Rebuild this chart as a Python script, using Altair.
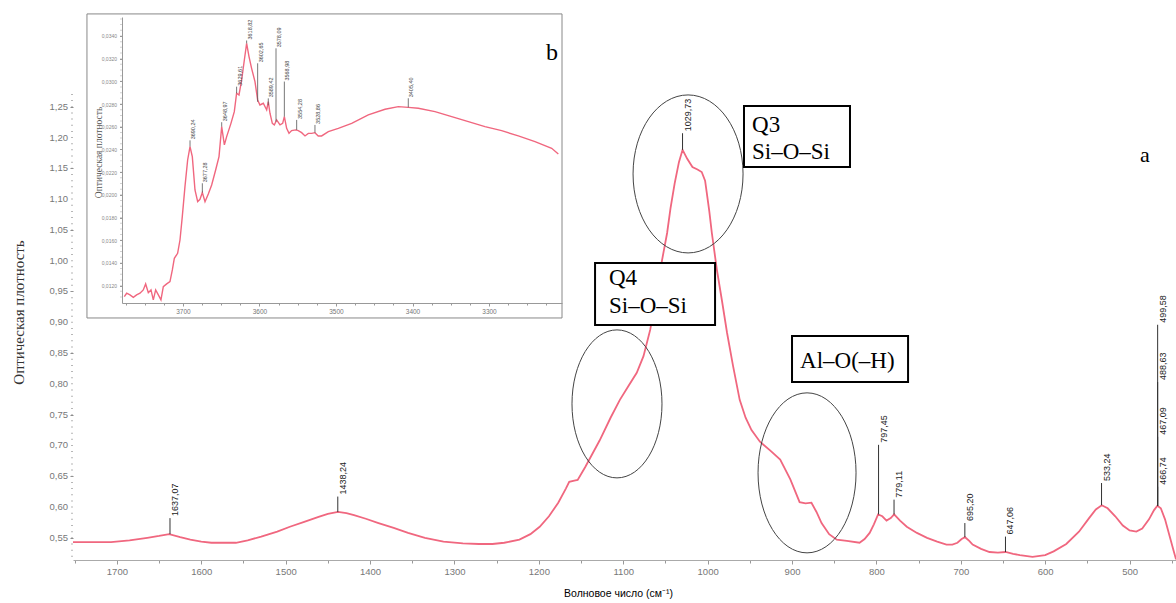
import altair as alt
import pandas as pd

# ---------------- main spectrum (a) ----------------
main_wn = [1752, 1730, 1707, 1685, 1664, 1650, 1638, 1625, 1613, 1600, 1588, 1559, 1545, 1529,
           1510, 1495, 1478, 1461, 1450, 1438, 1428, 1419, 1405, 1390, 1372, 1355, 1335, 1313,
           1290, 1271, 1255, 1241, 1223, 1210, 1199, 1188, 1177, 1168, 1164, 1158, 1154, 1145,
           1128, 1115, 1104, 1094, 1084, 1076, 1068, 1060, 1054, 1048, 1044, 1039, 1034, 1029.7,
           1024, 1018, 1012, 1007, 1003, 1001, 998, 995, 992, 989, 983, 977, 970, 962, 955, 948,
           938, 926, 914, 902, 891, 884, 877, 871, 865, 856, 847, 835, 820, 814, 808, 803, 798,
           793, 788, 783, 779, 772, 764, 752, 740, 728, 717, 710, 704, 699, 695, 690, 686, 676,
           666, 656, 647, 638, 630, 615, 600, 590, 575, 560, 548, 540, 533, 526, 517, 508, 500,
           492, 485, 477, 471, 467, 463, 458, 453, 448, 445]
main_od = [0.543, 0.543, 0.543, 0.546, 0.550, 0.553, 0.556, 0.551, 0.547, 0.544, 0.542, 0.542, 0.546, 0.552,
           0.560, 0.568, 0.576, 0.584, 0.589, 0.592, 0.590, 0.587, 0.581, 0.574, 0.566, 0.558, 0.550, 0.544,
           0.541, 0.540, 0.540, 0.542, 0.547, 0.556, 0.568, 0.585, 0.607, 0.630, 0.641, 0.643, 0.644, 0.665,
           0.708, 0.745, 0.774, 0.796, 0.818, 0.845, 0.888, 0.950, 1.001, 1.045, 1.085, 1.126, 1.160, 1.180,
           1.165, 1.152, 1.148, 1.144, 1.130, 1.110, 1.080, 1.045, 1.015, 0.985, 0.935, 0.883, 0.830, 0.774, 0.745, 0.725,
           0.706, 0.692, 0.677, 0.645, 0.608, 0.606, 0.607, 0.592, 0.574, 0.556, 0.547, 0.545, 0.542, 0.548, 0.558, 0.572, 0.588,
           0.585, 0.578, 0.582, 0.588, 0.578, 0.568, 0.558, 0.550, 0.544, 0.539, 0.539, 0.542, 0.548, 0.551, 0.545, 0.539, 0.532,
           0.527, 0.526, 0.527, 0.524, 0.522, 0.519, 0.522, 0.528, 0.540, 0.560, 0.582, 0.596, 0.603, 0.598, 0.585, 0.570, 0.562,
           0.560, 0.565, 0.580, 0.595, 0.602, 0.598, 0.580, 0.555, 0.530, 0.515]

peak_labels = ["1637,07", "1438,24", "1029,73", "797,45", "779,11", "695,20", "647,06",
               "533,24", "499,58", "488,63", "467,09", "466,74"]
peak_pos = [1637.07, 1438.24, 1029.73, 797.45, 779.11, 695.20, 647.06,
            533.24, 466.74, 466.74, 466.74, 466.74]
peak_base = [0.556, 0.592, 1.180, 0.588, 0.588, 0.551, 0.527, 0.603, 0.602, 0.602, 0.602, 0.602]
peak_top = [0.582, 0.617, 1.207, 0.701, 0.612, 0.574, 0.552, 0.639, 0.896, 0.803, 0.714, 0.633]

box_lines = [["Q3", "Si\u2013O\u2013Si"], ["Q4", "Si\u2013O\u2013Si"], ["Al\u2013O(\u2013H)"]]

x_ticks = list(range(1750, 444, -25))
y_major = [0.55, 0.60, 0.65, 0.70, 0.75, 0.80, 0.85, 0.90, 0.95, 1.00, 1.05, 1.10, 1.15, 1.20, 1.25]
y_major_text = ["0,55", "0,60", "0,65", "0,70", "0,75", "0,80", "0,85", "0,90", "0,95", "1,00",
                "1,05", "1,10", "1,15", "1,20", "1,25"]
y_minor = [round(0.52 + 0.01 * i, 2) for i in range(76)]

# ---------------- inset (b) ----------------
inset_wn = [3776.7, 3773.6, 3769.3, 3764.9, 3760.6, 3756.2, 3751.9, 3748.8, 3745.3, 3741.8, 3738.8,
            3735.7, 3732.2, 3728.8, 3725.7, 3721.3, 3717.0, 3713.9, 3711.3, 3707.0, 3703.9, 3700.9,
            3697.4, 3693.9, 3690.8, 3687.8, 3684.3, 3680.8, 3677.8, 3674.7, 3671.2, 3666.9, 3662.5,
            3657.3, 3652.9, 3649.4, 3645.9, 3642.9, 3637.3, 3632.9, 3629.9, 3626.8, 3623.3, 3619.8,
            3616.8, 3613.7, 3610.3, 3605.9, 3602.4, 3599.4, 3595.0, 3590.6, 3588.5, 3586.3, 3583.2,
            3580.6, 3577.6, 3573.2, 3569.7, 3567.5, 3564.5, 3561.4, 3558.0, 3552.7, 3549.3, 3544.9,
            3540.5, 3536.2, 3531.8, 3527.5, 3523.2, 3518.8, 3510.0, 3497.0, 3479.5, 3457.8, 3435.9,
            3418.5, 3405.5, 3392.4, 3370.6, 3348.8, 3327.0, 3305.3, 3283.5, 3261.7, 3239.9, 3218.1,
            3209.4]
inset_od = [110.3, 113.3, 111.8, 109.7, 111.8, 113.3, 116.2, 121.5, 113.8, 116.2, 107.4,
            116.2, 111.8, 107.4, 119.1, 121.5, 123.5, 133.8, 144.1, 148.5, 160.2, 180.8,
            207.2, 230.7, 242.5, 233.7, 204.3, 194.0, 196.1, 202.0, 194.0, 200.8, 208.7,
            221.9, 233.7, 260.1, 244.0, 251.3, 263.0, 273.3, 289.5, 288.0, 301.2, 318.8,
            333.5, 321.8, 311.5, 299.8, 283.6, 279.2, 280.7, 274.8, 282.1, 271.9, 263.0,
            261.6, 266.0, 261.6, 263.0, 268.9, 258.6, 254.2, 256.6, 257.2, 256.6, 254.8,
            251.9, 254.2, 254.2, 254.8, 251.9, 251.9, 255.7, 258.6, 263.0, 270.4, 275.4,
            277.7, 277.1, 276.3, 273.3, 268.9, 264.5, 260.1, 256.6, 251.9, 246.9, 241.0,
            236.0]

inset_peak_labels = ["3690,24", "3677,28", "3648,97", "3629,61", "3618,82", "3602,65",
                     "3589,42", "3578,09", "3568,98", "3554,28", "3528,86", "3405,40"]
inset_peak_pos = [3690.8, 3674.7, 3649.4, 3629.9, 3616.8, 3602.4, 3588.5, 3578.4, 3567.5,
                  3551.4, 3527.5, 3405.5]
inset_peak_base = [242.5, 202.0, 260.1, 289.5, 333.5, 282.0, 279.0, 264.5, 268.9, 257.2, 254.8, 277.1]
inset_peak_top = [248.0, 210.2, 264.0, 295.3, 336.0, 315.9, 285.0, 329.1, 299.8, 266.0, 261.6, 285.1]

inset_x_ticks = list(range(3775, 3204, -25))
inset_y_major = [120, 140, 160, 180, 200, 220, 240, 260, 280, 300, 320, 340]
inset_y_minor = list(range(110, 356, 5))

PINK = "#f0677f"

# ---------------- main layers ----------------
xs = alt.Scale(domain=[1752, 445], nice=False, zero=False)
ys = alt.Scale(domain=[0.514, 1.4006], nice=False, zero=False)

main_df = pd.DataFrame({"wn": main_wn, "od": main_od})
peaks_df = pd.DataFrame({"wn": peak_pos, "od": peak_base, "top": peak_top, "label": peak_labels})
yminor_df = pd.DataFrame({"od": y_minor})
ylab_df = pd.DataFrame({"od": y_major, "txt": y_major_text})

x_axis = alt.Axis(
    values=x_ticks,
    labelExpr="datum.value % 100 == 0 ? '' + datum.value : ''",
    tickSize={"condition": {"test": "datum.value % 100 == 0", "value": 4}, "value": 3},
    tickColor="#999", domainColor="#aaa", labelColor="#777", labelFont="Liberation Sans",
    labelFontSize=9.5, labelPadding=2, labelOverlap=False, grid=False,
    title="Волновое число (см⁻¹)", titleFont="Liberation Sans", titleFontSize=10.5,
    titleFontWeight="normal", titleColor="black", titleX=545, titleY=33, titleBaseline="middle",
)
y_axis = alt.Axis(
    values=y_major, labels=False,
    tickSize=3, tickColor="#888", domain=False, grid=False,
    title="Оптическая плотность", titleFont="Liberation Serif", titleFontSize=15,
    titleFontWeight="normal", titleColor="#333", titleAngle=270, titleX=-55, titleY=298,
    titleBaseline="middle",
)

curve = alt.Chart(main_df).mark_line(color=PINK, strokeWidth=1.8).encode(
    x=alt.X("wn:Q", scale=xs, axis=x_axis),
    y=alt.Y("od:Q", scale=ys, axis=y_axis),
)
yminor = alt.Chart(yminor_df).mark_tick(
    orient="horizontal", size=2, thickness=1, color="#999"
).encode(y="od:Q", x=alt.value(-1))
ylabels = alt.Chart(ylab_df).mark_text(
    align="right", baseline="middle", font="Liberation Sans", fontSize=9.5, color="#777"
).encode(y="od:Q", x=alt.value(-5), text="txt:N")
prules = alt.Chart(peaks_df).mark_rule(color="#333", strokeWidth=1).encode(
    x="wn:Q", y="od:Q", y2="top:Q"
)
ptext = alt.Chart(peaks_df).mark_text(
    angle=270, align="left", baseline="middle", dx=2, dy=5,
    font="Liberation Sans", fontSize=9, color="#222"
).encode(x="wn:Q", y="top:Q", text="label:N")

one = pd.DataFrame({"k": [0]})


def ellipse(cx, cy, rx, ry):
    r = rx / ry
    path = f"M {-r},0 A {r},1 0 1,0 {r},0 A {r},1 0 1,0 {-r},0 Z"
    return alt.Chart(one).mark_point(
        shape=path, size=(2 * ry) ** 2, filled=False, stroke="#444", strokeWidth=1, opacity=1
    ).encode(x=alt.datum(cx), y=alt.datum(cy))


def box(x1, x2, y1, y2):
    return alt.Chart(one).mark_rect(fill="white", stroke="black", strokeWidth=2).encode(
        x=alt.datum(x1), x2=alt.datum(x2), y=alt.datum(y1), y2=alt.datum(y2)
    )


def label(txt, x, y, size=23, font="Liberation Serif", align="left", baseline="alphabetic"):
    return alt.Chart(one).mark_text(
        text=txt, font=font, fontSize=size, color="black", align=align, baseline=baseline
    ).encode(x=alt.datum(x), y=alt.datum(y))


main_layer = alt.layer(
    curve,
    yminor,
    ylabels,
    ellipse(1023.2, 1.1409, 55, 79),
    ellipse(1107.4, 0.7675, 45, 74),
    ellipse(882.2, 0.6555, 49, 80),
    box(956.9, 831.3, 1.2512, 1.1522),
    label(box_lines[0][0], 947.4, 1.209),
    label(box_lines[0][1], 947.4, 1.165),
    box(1133.4, 991.2, 0.9964, 0.8957),
    label(box_lines[1][0], 1116.9, 0.9607),
    label(box_lines[1][1], 1116.9, 0.9152),
    box(900.0, 762.5, 0.8779, 0.8032),
    label(box_lines[2][0], 890.5, 0.8259),
    label("a", 487.6, 1.172, size=22, baseline="middle"),
    prules,
    ptext,
)

# ---------------- inset layers ----------------
ixs = alt.Scale(domain=[3779.7, 3204.6], range=[49, 489], nice=False, zero=False)
iys = alt.Scale(domain=[104.7, 356.7], range=[289, 3], nice=False, zero=False)

inset_df = pd.DataFrame({"wn": inset_wn, "u": inset_od})
ipeaks_df = pd.DataFrame({"wn": inset_peak_pos, "u": inset_peak_base, "top": inset_peak_top,
                          "label": inset_peak_labels})
iminor_df = pd.DataFrame({"u": inset_y_minor})

ix_axis = alt.Axis(
    orient="bottom", offset=-257, zindex=2, values=inset_x_ticks,
    labelExpr="datum.value % 100 == 0 ? '' + datum.value : ''",
    tickSize={"condition": {"test": "datum.value % 100 == 0", "value": 3}, "value": 2},
    tickColor="#999", domainColor="#999", labelColor="#777", labelFont="Liberation Sans",
    labelFontSize=6.5, labelPadding=2, labelOverlap=False, grid=False, title=None,
)
iy_axis = alt.Axis(
    orient="left", offset=-49, zindex=2, values=inset_y_major,
    labelExpr="replace(format(datum.value/10000, '.4f'), '.', ',')",
    tickSize=2.5, tickColor="#999", domainColor="#999", labelColor="#888",
    labelFont="Liberation Sans", labelFontSize=5, labelPadding=3, labelOverlap=False, grid=False,
    title="Оптическая плотность", titleFont="Liberation Serif", titleFontSize=9.5,
    titleFontWeight="normal", titleColor="#555", titleAngle=270, titleX=-24, titleY=138,
    titleBaseline="middle",
)

ibg = alt.Chart(one).mark_rect(fill="white", stroke="#888", strokeWidth=1).encode(
    x=alt.X(datum=3825.5, scale=ixs, axis=ix_axis), x2=alt.datum(3204.6),
    y=alt.Y(datum=91.5, scale=iys, axis=iy_axis), y2=alt.datum(359.4),
)
iminor = alt.Chart(iminor_df).mark_tick(
    orient="horizontal", size=1.5, thickness=1, color="#aaa"
).encode(y="u:Q", x=alt.value(48))
icurve = alt.Chart(inset_df).mark_line(color=PINK, strokeWidth=1.4).encode(
    x="wn:Q", y="u:Q"
)
irules = alt.Chart(ipeaks_df).mark_rule(color="#555", strokeWidth=0.8).encode(
    x="wn:Q", y="u:Q", y2="top:Q"
)
itext = alt.Chart(ipeaks_df).mark_text(
    angle=270, align="left", baseline="middle", dx=1, dy=3,
    font="Liberation Sans", fontSize=5.5, color="#444"
).encode(x="wn:Q", y="top:Q", text="label:N")
ib = alt.Chart(one).mark_text(
    text="b", font="Liberation Serif", fontSize=24, color="black", align="center", baseline="middle"
).encode(x=alt.datum(3217.7), y=alt.datum(325.0))

inset_layer = alt.layer(ibg, iminor, icurve, irules, itext, ib)

chart = alt.layer(main_layer, inset_layer).resolve_scale(
    x="independent", y="independent"
).resolve_axis(x="independent", y="independent").properties(
    width=1103, height=546,
    autosize=alt.AutoSizeParams(type="none"),
    padding={"left": 73, "top": 14, "right": 0, "bottom": 43},
    background="white",
).configure_view(strokeWidth=0)

chart.save("out.html", embed_options={"renderer": "svg", "actions": False})
